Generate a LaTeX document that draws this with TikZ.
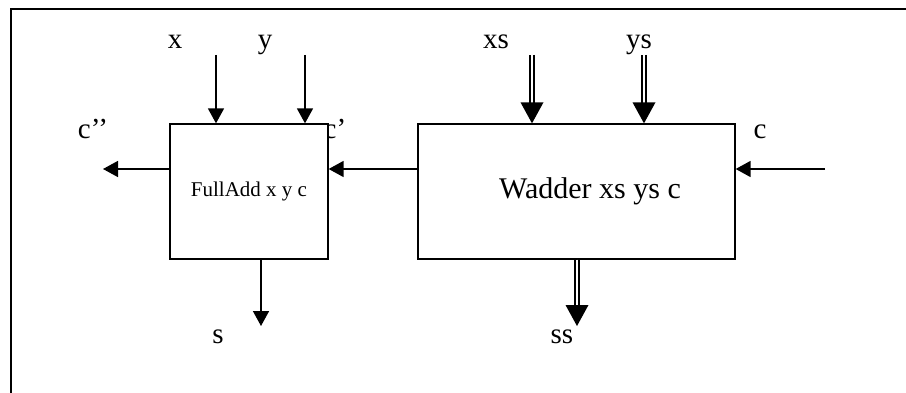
\documentclass[tikz,border=0pt]{standalone}
\usepackage{fontspec}
\setmainfont{Liberation Serif}
\usetikzlibrary{arrows.meta,decorations.markings}

\begin{document}
\begin{tikzpicture}[x=1pt, y=-1pt, line width=1.3pt,
        block/.style={rectangle, draw, fill=white, inner sep=0pt, minimum height=135},
        wire/.style={line width=1.6pt, -{Triangle[length=15pt, width=16pt]}},
        bus/.style={line width=1.8pt, double, double distance=2.6pt, shorten >=19pt,
            postaction={decorate, decoration={markings,
                mark=at position 1 with {\fill (0pt,0pt) -- (-21pt,11.5pt) -- (-21pt,-11.5pt) -- cycle;}}}},
        sig/.style={font=\fontsize{29}{32}\selectfont, anchor=base, inner sep=0pt}]

            \useasboundingbox (0,0) rectangle (906,393);
            \draw (906,9) -- (11,9) -- (11,393);

            % labels of the signals
            \node[sig] (xlab) at (175,49) {x};
            \node[sig] (ylab) at (265,49) {y};
            \node[sig] (xslab) at (496,49) {xs};
            \node[sig] (yslab) at (639,49) {ys};
            \node[sig] (c2lab) at (93,139) {c’’};
            \node[sig, anchor=base west] (c1lab) at (323,139) {c’};
            \node[sig] (clab) at (760,139) {c};
            \node[sig] (slab) at (218,343) {s};
            \node[sig] (sslab) at (562,343) {ss};

            % the two blocks
            \node[block, minimum width=158, font=\fontsize{21}{24}\selectfont] (fa) at (249,191.5) {FullAdd x y c};
            \node[block, minimum width=317] (wad) at (576.5,191.5) {};
            \node[font=\fontsize{30}{33}\selectfont] (wadtext) at (590,191.5) {Wadder xs ys c};

            % free ends of the connectors
            \coordinate (xin) at (216,55);
            \coordinate (yin) at (305,55);
            \coordinate (xsin) at (532,55);
            \coordinate (ysin) at (644,55);
            \coordinate (cin) at (825,169);
            \coordinate (cout) at (103,169);
            \coordinate (sout) at (261,326);
            \coordinate (ssout) at (577,326);

            % single wires
            \draw[wire] (xin) -- (xin |- fa.north);
            \draw[wire] (yin) -- (yin |- fa.north);
            \draw[wire] (cin) -- (wad.east |- cin);
            \draw[wire] (wad.west |- cin) -- (fa.east |- cin);
            \draw[wire] (fa.west |- cout) -- (cout);
            \draw[wire] (sout |- fa.south) -- (sout);

            % buses
            \draw[bus] (xsin) -- (xsin |- wad.north);
            \draw[bus] (ysin) -- (ysin |- wad.north);
            \draw[bus] (ssout |- wad.south) -- (ssout);

    \end{tikzpicture}
\end{document}
